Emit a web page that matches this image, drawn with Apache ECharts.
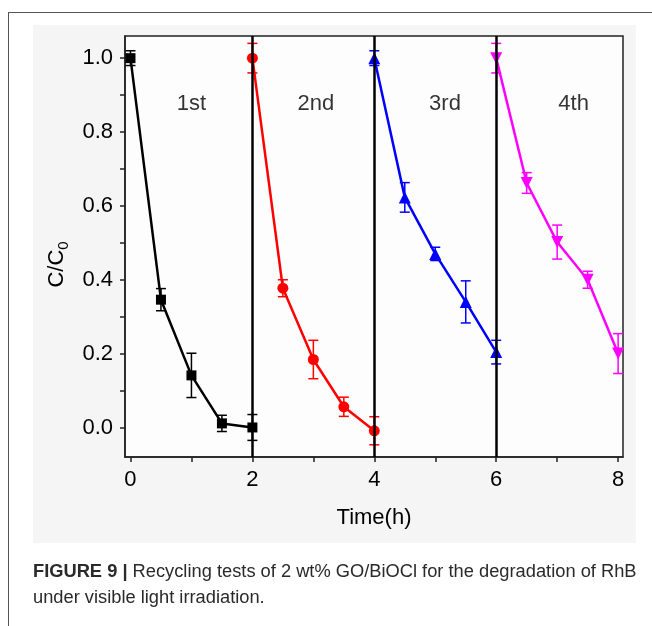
<!DOCTYPE html>
<html>
<head>
<meta charset="utf-8">
<script src="https://cdn.jsdelivr.net/npm/echarts@6/dist/echarts.min.js"></script>
<style>
html,body{margin:0;padding:0;background:#fff;}
#chart{width:652px;height:626px;}
</style>
</head>
<body>
<div id="chart"></div>
<script>
// ---- data ----
const run1X = [0, 0.5, 1, 1.5, 2];
const run1Y = [1.0, 0.346, 0.141, 0.011, 0.0];
const run1Err = [0.02, 0.03, 0.06, 0.022, 0.035];

const run2X = [2, 2.5, 3, 3.5, 4];
const run2Y = [1.0, 0.377, 0.184, 0.056, -0.009];
const run2Err = [0.04, 0.023, 0.052, 0.026, 0.038];

const run3X = [4, 4.5, 5, 5.5, 6];
const run3Y = [1.0, 0.623, 0.47, 0.34, 0.204];
const run3Err = [0.02, 0.04, 0.018, 0.057, 0.032];

const run4X = [6, 6.5, 7, 7.5, 8];
const run4Y = [1.0, 0.662, 0.502, 0.4, 0.2];
const run4Err = [0.04, 0.028, 0.046, 0.023, 0.054];

const runLabels = ['1st', '2nd', '3rd', '4th'];
const runLabelX = [1.0, 3.04, 5.16, 7.27];
const runLabelY = [0.876, 0.876, 0.876, 0.876];

const separatorsX = [2, 4, 6];

const xTickValues = [0, 1, 2, 3, 4, 5, 6, 7, 8];
const xLabelValues = [0, 2, 4, 6, 8];
const yTickValues = [0, 0.1, 0.2, 0.3, 0.4, 0.5, 0.6, 0.7, 0.8, 0.9, 1.0];
const yLabelValues = [0, 0.2, 0.4, 0.6, 0.8, 1.0];

const xLabelText = 'Time(h)';
const captionBold = 'FIGURE 9 |';
const captionLine1 = ' Recycling tests of 2 wt% GO/BiOCl for the degradation of RhB';
const captionLine2 = 'under visible light irradiation.';

// ---- build ----
const FONT = '"Liberation Sans", Arial, sans-serif';
const runs = [
  {x: run1X, y: run1Y, e: run1Err, color: '#000000', symbol: 'rect', size: 10, rot: 0},
  {x: run2X, y: run2Y, e: run2Err, color: '#ff0000', symbol: 'circle', size: 11, rot: 0},
  {x: run3X, y: run3Y, e: run3Err, color: '#0000ff', symbol: 'triangle', size: 12, rot: 0},
  {x: run4X, y: run4Y, e: run4Err, color: '#ff00ff', symbol: 'triangle', size: 12, rot: 180}
];

const series = [];
runs.forEach((r, i) => {
  series.push({
    type: 'custom',
    name: 'err' + i,
    data: r.x.map((xv, k) => [xv, r.y[k] - r.e[k], r.y[k] + r.e[k]]),
    encode: {x: 0, y: [1, 2]},
    z: 3,
    renderItem: function (params, api) {
      const lo = api.coord([api.value(0), api.value(1)]);
      const hi = api.coord([api.value(0), api.value(2)]);
      const hw = 5;
      const st = {stroke: r.color, lineWidth: 1.5, fill: null};
      return {
        type: 'group',
        children: [
          {type: 'line', shape: {x1: lo[0], y1: lo[1], x2: hi[0], y2: hi[1]}, style: st},
          {type: 'line', shape: {x1: lo[0] - hw, y1: lo[1], x2: lo[0] + hw, y2: lo[1]}, style: st},
          {type: 'line', shape: {x1: hi[0] - hw, y1: hi[1], x2: hi[0] + hw, y2: hi[1]}, style: st}
        ]
      };
    }
  });
  series.push({
    type: 'line',
    name: 'run' + i,
    data: r.x.map((xv, k) => [xv, r.y[k]]),
    symbol: r.symbol,
    symbolSize: r.size,
    symbolRotate: r.rot,
    showAllSymbol: true,
    z: 4,
    lineStyle: {color: r.color, width: 2.5},
    itemStyle: {color: r.color, borderWidth: 0},
    markLine: i === 0 ? {
      silent: true,
      symbol: 'none',
      label: {show: false},
      lineStyle: {color: '#000', width: 2.5, type: 'solid'},
      data: separatorsX.map(v => ({xAxis: v}))
    } : undefined
  });
});

series.push({
  type: 'scatter',
  name: 'labels',
  data: runLabels.map((t, i) => [runLabelX[i], runLabelY[i], t]),
  symbolSize: 0,
  z: 5,
  label: {
    show: true,
    position: 'inside',
    formatter: p => p.value[2],
    fontFamily: FONT,
    fontSize: 22,
    color: '#000'
  }
});

const option = {
  animation: false,
  backgroundColor: '#ffffff',
  graphic: [
    {type: 'rect', z: -10, shape: {x: 33, y: 25, width: 603, height: 518}, style: {fill: '#f5f5f5'}},
    {type: 'line', z: -5, shape: {x1: 8, y1: 12.5, x2: 652, y2: 12.5}, style: {stroke: '#555', lineWidth: 1}},
    {type: 'line', z: -5, shape: {x1: 8.5, y1: 12, x2: 8.5, y2: 626}, style: {stroke: '#555', lineWidth: 1}},
    {
      type: 'text', left: 33, top: 563,
      style: {
        text: '{b|' + captionBold + '}{n|' + captionLine1 + '}\n{n|' + captionLine2 + '}',
        rich: {
          b: {fontFamily: FONT, fontSize: 18.3, fontWeight: 'bold', fill: '#2a2a2a', lineHeight: 26},
          n: {fontFamily: FONT, fontSize: 18.3, fill: '#2a2a2a', lineHeight: 26}
        }
      }
    }
  ],
  grid: {
    left: 125, top: 36, right: 29, bottom: 169,
    show: true,
    backgroundColor: '#fdfdfd',
    borderColor: '#222',
    borderWidth: 1.5,
    containLabel: false
  },
  xAxis: {
    type: 'value',
    min: -0.09,
    max: 8.08,
    name: xLabelText,
    nameLocation: 'middle',
    nameGap: 50,
    nameTextStyle: {fontFamily: FONT, fontSize: 22, color: '#000'},
    axisLine: {show: true, onZero: false, lineStyle: {color: '#222', width: 1.5}},
    axisTick: {show: true, inside: false, length: 5, customValues: xTickValues, lineStyle: {color: '#222', width: 1.5}},
    axisLabel: {customValues: xLabelValues, margin: 12, fontFamily: FONT, fontSize: 22, color: '#000'},
    splitLine: {show: false}
  },
  yAxis: {
    type: 'value',
    min: -0.08,
    max: 1.06,
    name: 'C/C{sub|0}',
    nameLocation: 'middle',
    nameGap: 52,
    nameRotate: 90,
    nameTextStyle: {
      fontFamily: FONT, fontSize: 22, color: '#000', lineHeight: 30,
      padding: [0, 36, 0, 0],
      rich: {sub: {fontFamily: FONT, fontSize: 15, color: '#000', lineHeight: 14, verticalAlign: 'bottom'}}
    },
    axisLine: {show: true, onZero: false, lineStyle: {color: '#222', width: 1.5}},
    axisTick: {show: true, inside: false, length: 5, customValues: yTickValues, lineStyle: {color: '#222', width: 1.5}},
    axisLabel: {customValues: yLabelValues, margin: 12, fontFamily: FONT, fontSize: 22, color: '#000',
      formatter: v => v.toFixed(1)},
    splitLine: {show: false}
  },
  series: series
};

const chart = echarts.init(document.getElementById('chart'), null, {renderer: 'canvas'});
chart.setOption(option);
</script>
</body>
</html>
